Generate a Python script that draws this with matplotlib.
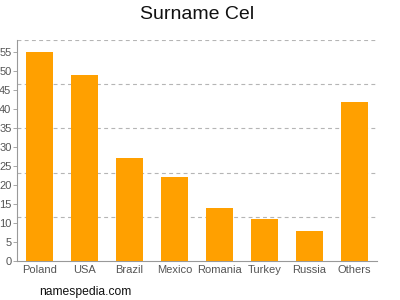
import numpy as np
import matplotlib
matplotlib.use("Agg")
import matplotlib.pyplot as plt

countries = ["Poland", "USA", "Brazil", "Mexico", "Romania", "Turkey", "Russia", "Others"]
counts = [55, 49, 27, 22, 14, 11, 8, 42]
yticks = list(range(0, 60, 5))
ytop = 58.2

plt.rcParams['font.family'] = ['Liberation Sans', 'DejaVu Sans']

fig = plt.figure(figsize=(4, 3), dpi=100)
ax = fig.add_axes([0.0425, 0.13, 0.9, 0.7367])

x = np.arange(len(countries))
ax.bar(x, counts, width=0.62, color='#ffa000', zorder=3)

# dashed grid at fifths of the axis height
for k in range(1, 6):
    ax.axhline(ytop * k / 5, color='#b5b5b5', linestyle=(0, (3.5, 3)), linewidth=0.8, zorder=1)

ax.set_xlim(-0.5, len(countries) - 0.5)
ax.set_ylim(0, ytop)
ax.set_yticks(yticks)
ax.set_xticks(x)
ax.set_xticklabels(countries)

for s in ['top', 'right']:
    ax.spines[s].set_visible(False)
for s in ['left', 'bottom']:
    ax.spines[s].set_color('#999999')
    ax.spines[s].set_linewidth(0.8)

ax.tick_params(axis='y', colors='#999999', labelcolor='#555555', labelsize=8, length=3, width=0.6, pad=1)
ax.tick_params(axis='x', length=0, labelcolor='#555555', labelsize=8, pad=3)

fig.text(0.493, 0.952, "Surname Cel", ha='center', va='center', fontsize=14, color='#111111')
fig.text(0.098, 0.028, "namespedia.com", ha='left', va='center', fontsize=8.7, color='#111111')

fig.savefig("out.png", dpi=100)
